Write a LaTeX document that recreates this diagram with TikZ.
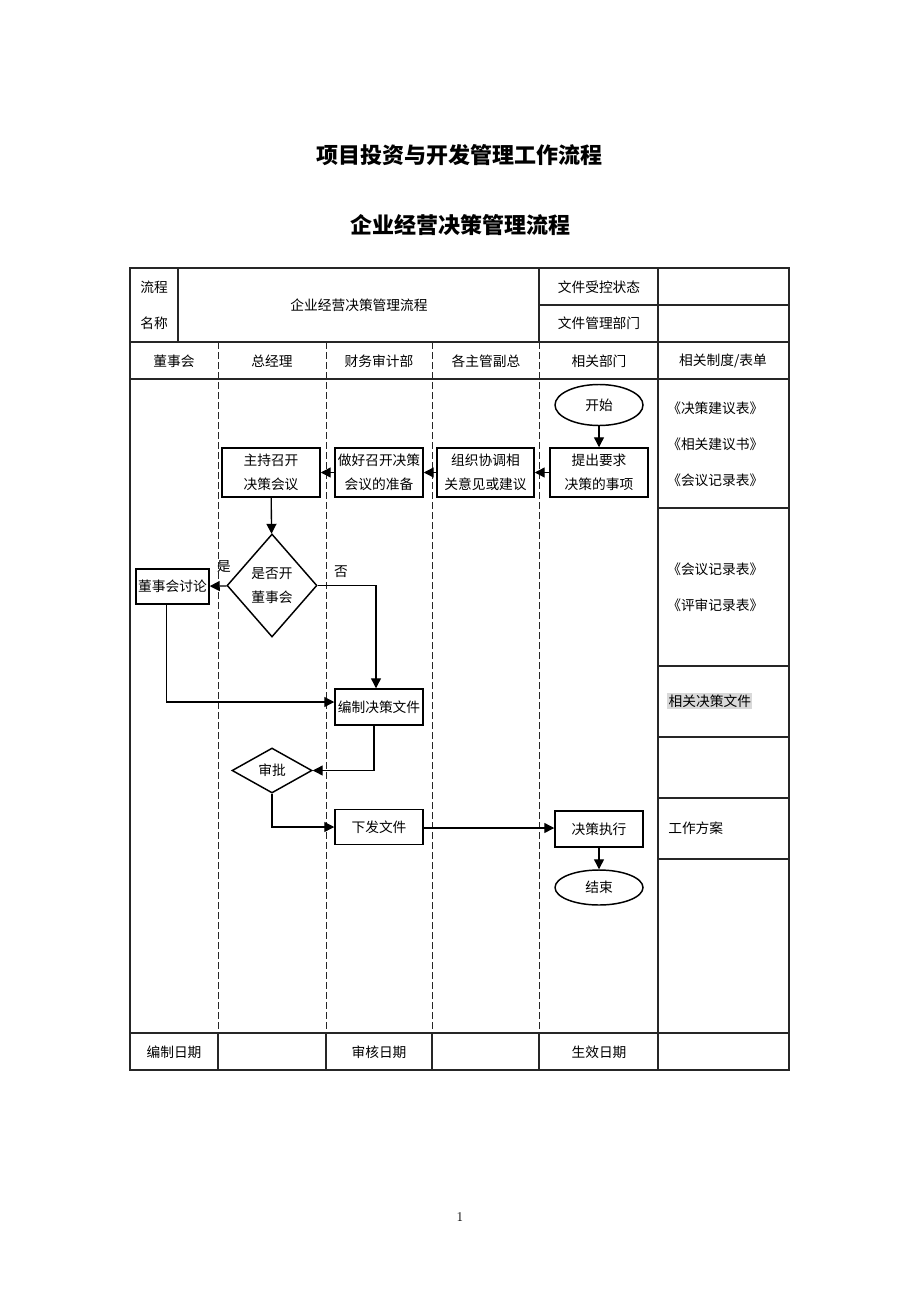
\documentclass[tikz,border=0pt]{standalone}
\usepackage{fontspec}
\newfontfamily\cjk{Noto Sans CJK SC}
\usetikzlibrary{shapes.geometric,arrows.meta}
\tikzset{
  tbl/.style={line width=0.9pt, draw=black!85},
  lane/.style={line width=0.75pt, draw=black!85, dash pattern=on 5.25pt off 2.25pt},
  txt/.style={font=\cjk\fontsize{10.3}{18}\selectfont, inner sep=0pt, align=center},
  ltxt/.style={font=\cjk\fontsize{10.3}{18}\selectfont, inner sep=0pt, anchor=west},
  box/.style={draw, line width=1.1pt, fill=white, inner sep=0pt, align=center,
    font=\cjk\fontsize{10.3}{18}\selectfont},
  oval/.style={box, ellipse},
  dia/.style={box, diamond},
  arr/.style={line width=1pt, -{Triangle[length=7.5pt,width=7.5pt]}},
  ttl/.style={font=\cjk\bfseries\fontsize{16.5}{20}\selectfont, inner sep=0pt}
}
\begin{document}
\begin{tikzpicture}[x=0.75pt,y=-0.75pt]
\useasboundingbox (0,0) rectangle (920,1302);
% titles
\node[ttl] (t1) at (459,155) {项目投资与开发管理工作流程};
\node[ttl] (t2) at (460,225) {企业经营决策管理流程};
% table frame
\draw[tbl] (130,268) rectangle (789,1070);
\draw[tbl] (130,342) -- (789,342);
\draw[tbl] (130,379) -- (789,379);
\draw[tbl] (130,1033) -- (789,1033);
\draw[tbl] (178,268) -- (178,342);
\draw[tbl] (539,268) -- (539,342);
\draw[tbl] (658,268) -- (658,1070);
\draw[tbl] (539,305) -- (789,305);
% footer separators
\foreach \x in {218,326,432,539} \draw[tbl] (\x,1033) -- (\x,1070);
% lanes
\foreach \x in {218,326,432,539} \draw[lane] (\x,342) -- (\x,1033);
% right column dividers
\foreach \y in {508,666,737,798,859} \draw[tbl] (658,\y) -- (789,\y);
% top row text
\node[txt] (l1) at (154,287) {流程};
\node[txt] (l2) at (154,323) {名称};
\node[txt] (l3) at (359,305) {企业经营决策管理流程};
\node[txt] (l4) at (599,287) {文件受控状态};
\node[txt] (l5) at (599,323) {文件管理部门};
% header
\node[txt] (h1) at (174,361) {董事会};
\node[txt] (h2) at (272,361) {总经理};
\node[txt] (h3) at (379,361) {财务审计部};
\node[txt] (h4) at (486,361) {各主管副总};
\node[txt] (h5) at (599,361) {相关部门};
\node[txt] (h6) at (723,361) {相关制度/表单};
% footer
\node[txt] (f1) at (174,1052) {编制日期};
\node[txt] (f2) at (379,1052) {审核日期};
\node[txt] (f3) at (599,1052) {生效日期};
% right column
\node[ltxt] (r1) at (667,408) {《决策建议表》};
\node[ltxt] (r2) at (667,444) {《相关建议书》};
\node[ltxt] (r3) at (667,480) {《会议记录表》};
\node[ltxt] (r4) at (667,569) {《会议记录表》};
\node[ltxt] (r5) at (667,605) {《评审记录表》};
\node[ltxt, fill=black!15, inner sep=1pt] (r6) at (667,701) {相关决策文件};
\node[ltxt] (r7) at (668,828) {工作方案};
% flow nodes
\node[oval, minimum width=66pt, minimum height=30.75pt] (start) at (599,405) {开始};
\node[box, minimum width=73.5pt, minimum height=36.75pt] (n1) at (599,472.5) {提出要求\\决策的事项};
\node[box, minimum width=72.75pt, minimum height=36.75pt] (n2) at (485.5,472.5) {组织协调相\\关意见或建议};
\node[box, minimum width=66pt, minimum height=36.75pt] (n3) at (379,472.5) {做好召开决策\\会议的准备};
\node[box, minimum width=73.5pt, minimum height=36.75pt] (n4) at (271,472.5) {主持召开\\决策会议};
\node[dia, minimum width=67.5pt, minimum height=77.25pt] (d1) at (272,585.5) {是否开\\董事会};
\node[box, minimum width=54.75pt, minimum height=26.25pt] (bd) at (172.5,586.5) {董事会讨论};
\node[box, minimum width=66pt, minimum height=27pt] (n5) at (379,707) {编制决策文件};
\node[dia, minimum width=60pt, minimum height=33.75pt] (d2) at (272,770.5) {审批};
\node[box, minimum width=66pt, minimum height=26.25pt] (n6) at (379,827) {下发文件};
\node[box, minimum width=66pt, minimum height=27pt] (n7) at (599,829) {决策执行};
\node[oval, minimum width=66pt, minimum height=26.25pt] (end) at (599,887.5) {结束};
% labels
\node[txt] (yes) at (224,567) {是};
\node[txt] (no) at (341,572) {否};
% connectors
\draw[arr] (start) -- (n1);
\draw[arr] (n1) -- (n2);
\draw[arr] (n2) -- (n3);
\draw[arr] (n3) -- (n4);
\draw[arr] (n4) -- (d1);
\draw[arr] (d1) -- (bd);
\draw[arr] (d1.east) -| ([xshift=-2.25pt]n5.north);
\draw[arr] ([xshift=-4.5pt]bd.south) |- ([yshift=3.75pt]n5.west);
\draw[arr] ([xshift=-3.75pt]n5.south) |- (d2.east);
\draw[arr] (d2.south) |- (n6.west);
\draw[arr] ([yshift=-0.75pt]n6.east) -- ([yshift=-0.75pt]n6.east -| n7.west);
\draw[arr] (n7) -- (end);
% page number
\node[font=\fontsize{10}{12}\selectfont, inner sep=0pt] (pg) at (460,1217) {1};
\end{tikzpicture}
\end{document}
